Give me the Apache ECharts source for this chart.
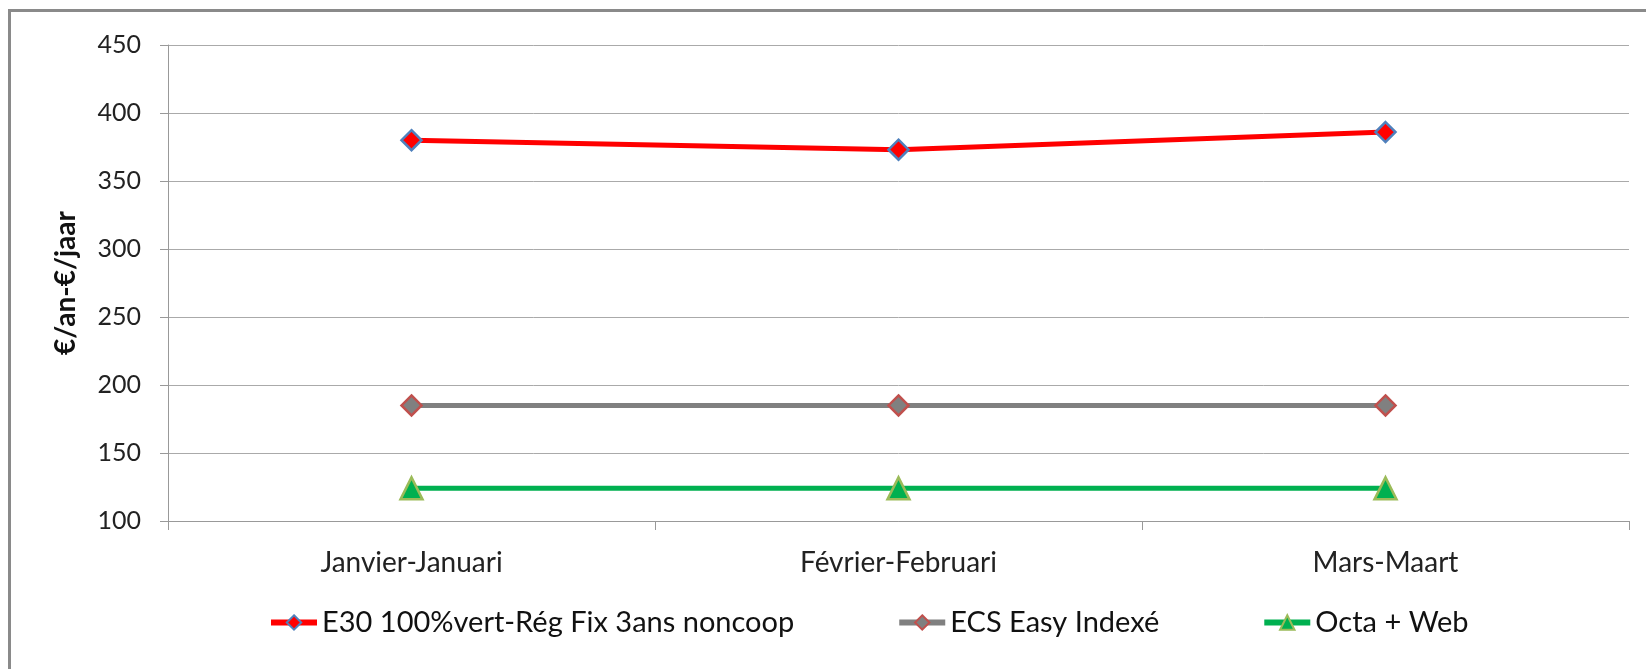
<!DOCTYPE html>
<html>
<head>
<meta charset="utf-8">
<script src="https://cdn.jsdelivr.net/npm/echarts@6/dist/echarts.min.js"></script>
<style>
html,body{margin:0;padding:0;background:#fff;}
#c{width:1646px;height:669px;}
</style>
</head>
<body>
<div id="c"></div>
<script>
const categories = ['Janvier-Januari', 'Février-Februari', 'Mars-Maart'];
const seriesNames = ['E30 100%vert-Rég Fix 3ans noncoop', 'ECS Easy Indexé', 'Octa + Web'];
const e30Values = [380, 373, 386];
const ecsValues = [185, 185, 185];
const octaValues = [124, 124, 124];
const yAxisName = '€/an-€/jaar';
const yMin = 100, yMax = 450, yStep = 50;

const FONT = 'Lato';
const chart = echarts.init(document.getElementById('c'));
chart.setOption({
  backgroundColor: '#fff',
  animation: false,
  graphic: [{
    type: 'rect',
    shape: {x: 9.5, y: 10.5, width: 1700, height: 700},
    style: {fill: 'none', stroke: '#8a8a8a', lineWidth: 3},
    silent: true, z: -1
  }],
  grid: {left: 168, right: 17, top: 45, bottom: 148},
  legend: {
    left: 263, top: 603,
    itemWidth: 46, itemHeight: 18, itemGap: 102,
    lineStyle: {width: 6},
    textStyle: {fontFamily: FONT, fontSize: 29, color: '#111'},
    data: seriesNames
  },
  xAxis: {
    type: 'category',
    data: categories,
    boundaryGap: true,
    axisLine: {lineStyle: {color: '#999', width: 1}},
    axisTick: {show: true, alignWithLabel: false, length: 9, lineStyle: {color: '#999'}},
    axisLabel: {fontFamily: FONT, fontSize: 28, color: '#222', margin: 28}
  },
  yAxis: {
    type: 'value',
    min: yMin, max: yMax, interval: yStep,
    name: yAxisName,
    nameLocation: 'middle',
    nameGap: 88,
    nameTextStyle: {fontFamily: FONT, fontSize: 28, fontWeight: 'bold', color: '#111'},
    axisLine: {show: true, lineStyle: {color: '#999', width: 1}},
    axisTick: {show: true, length: 8, lineStyle: {color: '#999'}},
    splitLine: {lineStyle: {color: '#aaa', width: 1}},
    axisLabel: {fontFamily: FONT, fontSize: 25, color: '#222', margin: 27}
  },
  series: [
    {
      name: seriesNames[0], type: 'line', data: e30Values,
      symbol: 'diamond', symbolSize: 20,
      lineStyle: {color: '#ff0000', width: 5},
      itemStyle: {color: '#ff0000', borderColor: '#4f81bd', borderWidth: 2.5}
    },
    {
      name: seriesNames[1], type: 'line', data: ecsValues,
      symbol: 'diamond', symbolSize: 20,
      lineStyle: {color: '#808080', width: 5},
      itemStyle: {color: '#808080', borderColor: '#c0504d', borderWidth: 2.5}
    },
    {
      name: seriesNames[2], type: 'line', data: octaValues,
      symbol: 'triangle', symbolSize: 22,
      lineStyle: {color: '#00b050', width: 5},
      itemStyle: {color: '#00b050', borderColor: '#9bbb59', borderWidth: 2.5}
    }
  ]
});
</script>
</body>
</html>
